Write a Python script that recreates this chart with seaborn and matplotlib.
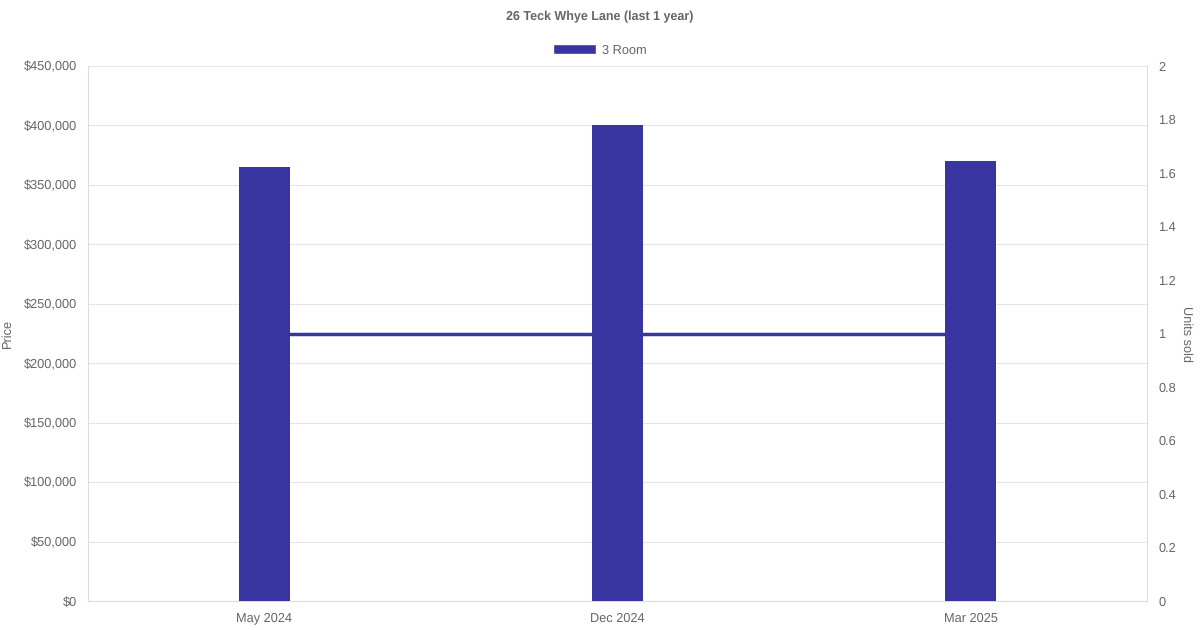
import pandas as pd
import seaborn as sns
import matplotlib.pyplot as plt
from matplotlib.patches import Patch
from matplotlib.ticker import FuncFormatter

# Data
months = ['May 2024', 'Dec 2024', 'Mar 2025']
prices = [365000, 400000, 370000]
units_sold = [1, 1, 1]

df = pd.DataFrame({'month': months, 'price': prices, 'units': units_sold})

sns.set_theme(style='white')
plt.rcParams['font.family'] = ['Liberation Sans', 'DejaVu Sans']
plt.rcParams['text.hinting'] = 'none'
grey = '#666666'
bar_color = '#3834a0'

fig = plt.figure(figsize=(12, 6.3), dpi=100)
ax = fig.add_axes([88 / 1200, 29 / 630, 1059 / 1200, 535 / 630])

sns.barplot(data=df, x='month', y='price', color=bar_color, width=0.143,
            saturation=1, linewidth=0, ax=ax, zorder=3)
ax.set_xlim(-0.5, 2.5)
ax.set_ylim(0, 450000)
ax.set_yticks(range(0, 450001, 50000))
ax.yaxis.set_major_formatter(FuncFormatter(lambda v, p: f'${v:,.0f}'))
ax.set_xlabel('')
ax.set_ylabel('Price', color=grey, fontsize=9.2, labelpad=7)
ax.grid(axis='y', color='#e5e5e5', linewidth=0.8, zorder=0)
ax.set_axisbelow(True)
ax.tick_params(axis='both', colors=grey, labelsize=9.2, length=0, pad=8)
for side in ['top', 'right']:
    ax.spines[side].set_visible(False)
for side in ['left', 'bottom']:
    ax.spines[side].set_color('#dddddd')
    ax.spines[side].set_linewidth(0.8)

ax2 = ax.twinx()
sns.lineplot(x=range(len(months)), y=units_sold, color=bar_color,
             linewidth=2.5, ax=ax2, zorder=1)
ax2.set_ylim(0, 2)
ax2.set_yticks([0, 0.2, 0.4, 0.6, 0.8, 1, 1.2, 1.4, 1.6, 1.8, 2])
ax2.set_yticklabels(['0', '0.2', '0.4', '0.6', '0.8', '1', '1.2', '1.4',
                     '1.6', '1.8', '2'])
ax2.set_ylabel('Units sold', color=grey, fontsize=9.2, rotation=270,
               labelpad=12)
ax2.tick_params(axis='y', colors=grey, labelsize=9.2, length=0, pad=8)
for side in ['top', 'left', 'bottom']:
    ax2.spines[side].set_visible(False)
ax2.spines['right'].set_color('#dddddd')
ax2.spines['right'].set_linewidth(0.8)
# keep bars above the line
ax.set_zorder(ax2.get_zorder() + 1)
ax.patch.set_visible(False)

fig.text(0.5, 1 - 17 / 630, '26 Teck Whye Lane (last 1 year)', ha='center',
         va='center', fontsize=9, fontweight='bold', color=grey)
fig.legend(handles=[Patch(facecolor=bar_color, label='3 Room')],
           loc='center', bbox_to_anchor=(0.5, 1 - 50 / 630), frameon=False,
           fontsize=9.2, labelcolor=grey, handlelength=3.3, handleheight=0.9,
           handletextpad=0.5)

fig.savefig('out.png', dpi=100)
